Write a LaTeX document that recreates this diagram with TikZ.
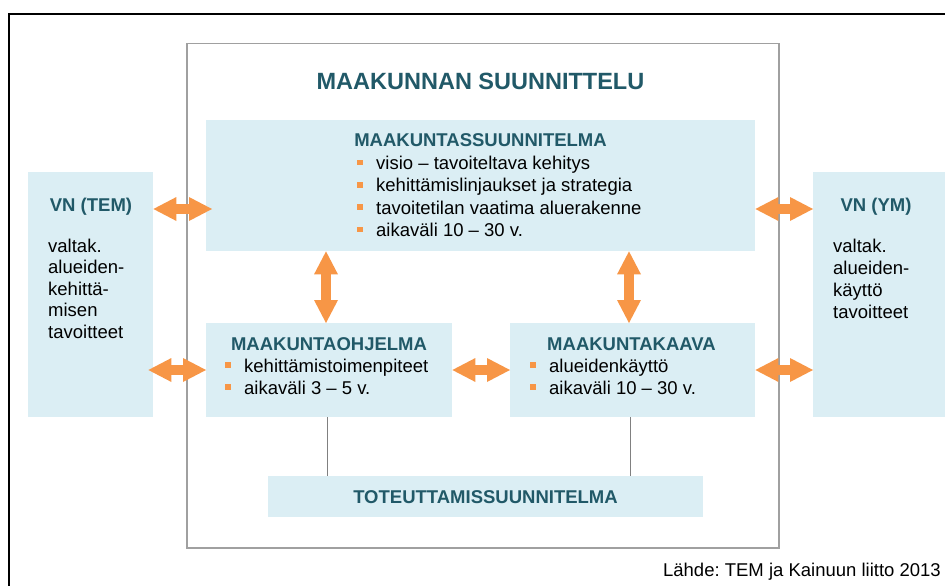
\documentclass[tikz,border=0pt]{standalone}
\usepackage{fontspec}
\setmainfont{Liberation Sans}
\usetikzlibrary{arrows.meta}
\frenchspacing
\definecolor{teal1}{RGB}{33,89,104}
\definecolor{boxblue}{RGB}{219,238,244}
\definecolor{orng}{RGB}{247,150,70}
\definecolor{framegray}{RGB}{160,160,160}
\definecolor{linkgray}{RGB}{128,128,128}
\newcommand{\bulsq}{\textcolor{orng}{\raisebox{4.3pt}{\rule{5.5pt}{5.5pt}}}\hspace{13.5pt}}
\begin{document}
\begin{tikzpicture}[x=1pt,y=-1pt,
  box/.style={fill=boxblue, draw=none, anchor=north west, inner sep=0pt},
  ttl/.style={font=\fontsize{18.5}{22}\selectfont\bfseries, text=teal1, anchor=base, inner sep=0pt},
  txt/.style={font=\fontsize{18.5}{22}\selectfont, anchor=base west, inner sep=0pt},
  dbl/.style={draw=orng, line width=10pt,
    {Triangle[length=23pt,width=24pt,line width=0pt]}-{Triangle[length=23pt,width=24pt,line width=0pt]}},
  link/.style={draw=linkgray, line width=1pt}]
\useasboundingbox (0,0) rectangle (945,586);
% outer border
\draw[black, line width=1.5pt] (9,586) -- (9,14) -- (945,14);
% inner frame
\node[draw=framegray, line width=1.5pt, anchor=north west, inner sep=0pt,
      minimum width=592pt, minimum height=504pt] (frame) at (186,43) {};
% boxes
\node[box, minimum width=549pt, minimum height=131pt] (plan) at (206,120) {};
\node[box, minimum width=125pt, minimum height=245pt] (vntem) at (28,172) {};
\node[box, minimum width=132pt, minimum height=245pt] (vnym) at (813,172) {};
\node[box, minimum width=246pt, minimum height=94pt] (prog) at (206,323) {};
\node[box, minimum width=245pt, minimum height=94pt] (kaava) at (510,323) {};
\node[box, minimum width=435pt, minimum height=41pt] (tot) at (268,476) {};
% helper coordinates
\coordinate (r1) at (0,209);
\coordinate (r2) at (0,370);
\coordinate (c1) at (326,0);
\coordinate (c2) at (629,0);
\coordinate (l1) at (327,0);
\coordinate (l2) at (630,0);
% gray links
\draw[link] (prog.south -| l1) -- (tot.north -| l1);
\draw[link] (kaava.south -| l2) -- (tot.north -| l2);
% double arrows
\draw[dbl, shorten >=-6pt] (vntem.east |- r1) -- (plan.west |- r1);
\draw[dbl, shorten <=-5pt] (vntem.east |- r2) -- (prog.west |- r2);
\draw[dbl] (plan.east |- r1) -- (vnym.west |- r1);
\draw[dbl] (kaava.east |- r2) -- (vnym.west |- r2);
\draw[dbl] (prog.east |- r2) -- (kaava.west |- r2);
\draw[dbl] (plan.south -| c1) -- (prog.north -| c1);
\draw[dbl] (plan.south -| c2) -- (kaava.north -| c2);
% texts
\node[ttl, font=\fontsize{23.5}{28}\selectfont\bfseries] (main) at (480.5,89) {MAAKUNNAN SUUNNITTELU};
\node[ttl] (plant) at (480.5,146) {MAAKUNTASSUUNNITELMA};
\node[txt] (p1) at (357,169.5) {\bulsq visio – tavoiteltava kehitys};
\node[txt] (p2) at (357,191.8) {\bulsq kehittämislinjaukset ja strategia};
\node[txt] (p3) at (357,214.1) {\bulsq tavoitetilan vaatima aluerakenne};
\node[txt] (p4) at (357,236.4) {\bulsq aikaväli 10 – 30 v.};
\node[ttl] (temt) at (91,211.5) {VN (TEM)};
\node[txt] (t1) at (48,252) {valtak.};
\node[txt] (t2) at (48,273.5) {alueiden-};
\node[txt] (t3) at (48,295) {kehittä-};
\node[txt] (t4) at (48,316.5) {misen};
\node[txt] (t5) at (48,338) {tavoitteet};
\node[ttl] (ymt) at (876,211.5) {VN (YM)};
\node[txt] (y1) at (833,252) {valtak.};
\node[txt] (y2) at (833,274) {alueiden-};
\node[txt] (y3) at (833,296) {käyttö};
\node[txt] (y4) at (833,318) {tavoitteet};
\node[ttl] (progt) at (329,350) {MAAKUNTAOHJELMA};
\node[txt] (g1) at (225,372) {\bulsq kehittämistoimenpiteet};
\node[txt] (g2) at (225,394) {\bulsq aikaväli 3 – 5 v.};
\node[ttl] (kaavat) at (631.5,350) {MAAKUNTAKAAVA};
\node[txt] (k1) at (530,372) {\bulsq alueidenkäyttö};
\node[txt] (k2) at (530,394) {\bulsq aikaväli 10 – 30 v.};
\node[ttl] (tott) at (485.5,503) {TOTEUTTAMISSUUNNITELMA};
\node[txt, anchor=base east] (src) at (941,576) {Lähde: TEM ja Kainuun liitto 2013};
\end{tikzpicture}
\end{document}
